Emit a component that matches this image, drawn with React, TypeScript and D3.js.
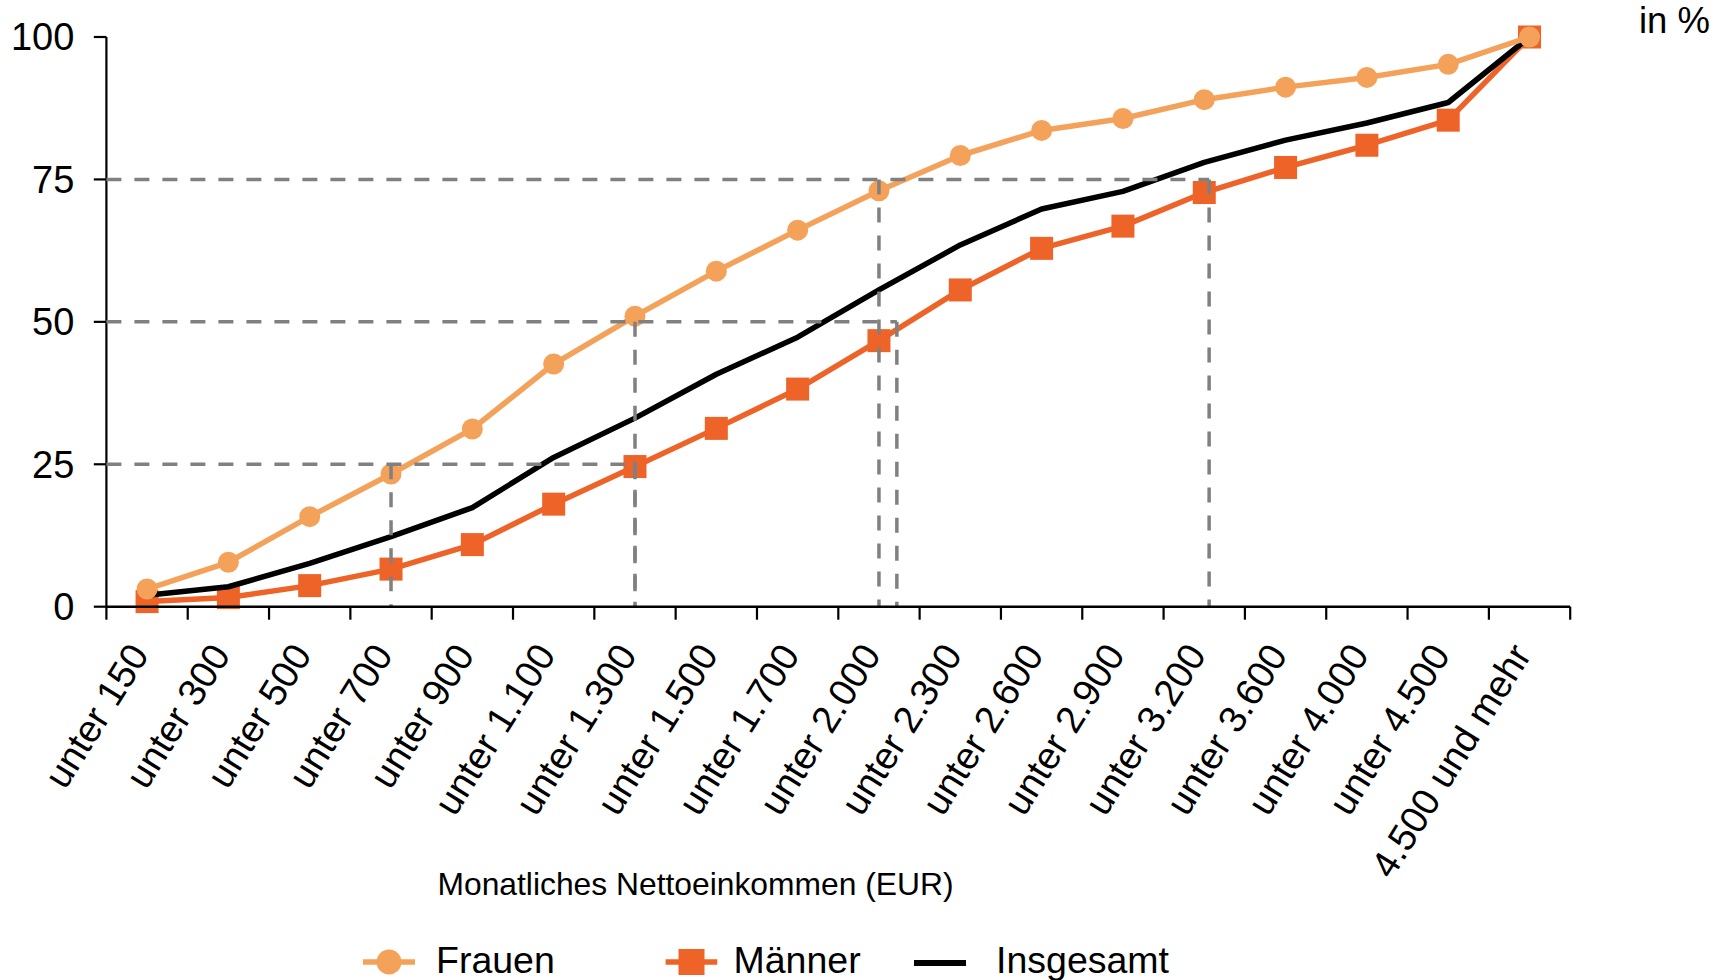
import React from 'react';
import * as d3 from 'd3';

const categories = [
  'unter 150', 'unter 300', 'unter 500', 'unter 700', 'unter 900', 'unter 1.100',
  'unter 1.300', 'unter 1.500', 'unter 1.700', 'unter 2.000', 'unter 2.300', 'unter 2.600',
  'unter 2.900', 'unter 3.200', 'unter 3.600', 'unter 4.000', 'unter 4.500', '4.500 und mehr',
];
const frauen = [3.1, 7.8, 15.8, 23.3, 31.2, 42.6, 51.0, 58.9, 66.1, 73.0, 79.2, 83.6, 85.7, 89.0, 91.2, 92.9, 95.2, 100];
const maenner = [0.9, 1.6, 3.7, 6.6, 10.9, 18.0, 24.6, 31.3, 38.2, 46.7, 55.6, 62.9, 66.8, 72.7, 77.1, 81.0, 85.4, 100];
const insgesamt = [2.0, 3.5, 7.6, 12.3, 17.4, 26.2, 33.1, 40.8, 47.3, 55.6, 63.5, 69.8, 72.9, 78.0, 81.9, 84.9, 88.5, 100];
const yTicks = [0, 25, 50, 75, 100];
const quartileLevels = [25, 50, 75];
// quartile positions expressed in category-index units
const frauenQuartiles = [3, 6, 9];
const maennerQuartiles = [6, 9.22, 13.06];
const legendItems = ['Frauen', 'Männer', 'Insgesamt'];
const axisTitle = 'Monatliches Nettoeinkommen (EUR)';
const unitLabel = 'in %';

const W = 1729;
const H = 980;
const FONT = '"Liberation Sans", Arial, Helvetica, sans-serif';
const C_F = '#F4A15A';
const C_M = '#EE6327';
const C_DASH = '#808080';

export default function App() {
  const x = d3.scaleBand<string>().domain(categories).range([106.4, 1570.2]);
  const y = d3.scaleLinear().domain([0, 100]).range([606.7, 37]);
  const bw = x.bandwidth();
  const first = (x(categories[0]) as number) + bw / 2;
  const last = (x(categories[categories.length - 1]) as number) + bw / 2;
  const xi = d3.scaleLinear().domain([0, categories.length - 1]).range([first, last]);
  const [x0, x1] = x.range();
  const y0 = y(0);

  const line = d3
    .line<number>()
    .x((_, i) => xi(i))
    .y((d) => y(d));

  const boundaries = categories.map((c) => x(c) as number).concat([x1]);

  const dash = '15 13';
  const dashW = 3.5;

  const sq = 11.5;
  const r = 10.5;

  return (
    <svg
      width={W}
      height={H}
      style={{ position: 'absolute', left: 0, top: 0, display: 'block', background: '#fff' }}
      fontFamily={FONT}
    >
      <rect x={0} y={0} width={W} height={H} fill="#fff" />

      {/* Y axis */}
      <line x1={x0} x2={x0} y1={y(100)} y2={y0} stroke="#000" strokeWidth={2.2} />
      {yTicks.map((t) => (
        <g key={t}>
          <line x1={x0 - 12.6} x2={x0} y1={y(t)} y2={y(t)} stroke="#000" strokeWidth={2.2} />
          <text x={x0 - 32} y={y(t)} dy="0.35em" textAnchor="end" fontSize={38} fill="#000">
            {t}
          </text>
        </g>
      ))}

      {/* Series */}
      <path d={line(maenner) || ''} fill="none" stroke={C_M} strokeWidth={5.5} strokeLinejoin="round" />
      {maenner.map((v, i) => (
        <rect key={i} x={xi(i) - sq} y={y(v) - sq} width={sq * 2} height={sq * 2} fill={C_M} />
      ))}
      <path d={line(insgesamt) || ''} fill="none" stroke="#000" strokeWidth={5.5} strokeLinejoin="round" />
      <path d={line(frauen) || ''} fill="none" stroke={C_F} strokeWidth={5.5} strokeLinejoin="round" />
      {frauen.map((v, i) => (
        <circle key={i} cx={xi(i)} cy={y(v)} r={r} fill={C_F} />
      ))}

      {/* Quartile guide lines */}
      {quartileLevels.map((lv, i) => {
        const xe = Math.max(xi(frauenQuartiles[i]), xi(maennerQuartiles[i]));
        return (
          <g key={lv}>
            <line x1={x0} x2={xe} y1={y(lv)} y2={y(lv)} stroke={C_DASH} strokeWidth={dashW} strokeDasharray={dash} />
            <line
              x1={xi(frauenQuartiles[i])}
              x2={xi(frauenQuartiles[i])}
              y1={y(lv)}
              y2={y0}
              stroke={C_DASH}
              strokeWidth={dashW}
              strokeDasharray={dash}
            />
            <line
              x1={xi(maennerQuartiles[i])}
              x2={xi(maennerQuartiles[i])}
              y1={y(lv)}
              y2={y0}
              stroke={C_DASH}
              strokeWidth={dashW}
              strokeDasharray={dash}
            />
          </g>
        );
      })}

      {/* X axis */}
      <line x1={x0} x2={x1} y1={y0} y2={y0} stroke="#000" strokeWidth={2.6} />
      {boundaries.map((b, i) => (
        <line key={i} x1={b} x2={b} y1={y0} y2={y0 + 13} stroke="#000" strokeWidth={2.2} />
      ))}
      {categories.map((c) => {
        const cx = (x(c) as number) + bw / 2 + 3;
        const cy = y0 + 48;
        return (
          <text
            key={c}
            x={cx}
            y={cy}
            transform={`rotate(-58 ${cx} ${cy})`}
            textAnchor="end"
            fontSize={38}
            fill="#000"
          >
            {c}
          </text>
        );
      })}

      {/* Axis title */}
      <text x={695.5} y={895} textAnchor="middle" fontSize={31.8} fill="#000">
        {axisTitle}
      </text>

      {/* Unit */}
      <text x={1639} y={33} fontSize={36.5} fill="#000">
        {unitLabel}
      </text>

      {/* Legend */}
      <g>
        <line x1={363} x2={415} y1={962} y2={962} stroke={C_F} strokeWidth={5.5} />
        <circle cx={389} cy={962} r={12.5} fill={C_F} />
        <text x={436} y={973} fontSize={37.5} fill="#000">{legendItems[0]}</text>

        <line x1={665.6} x2={717.3} y1={962} y2={962} stroke={C_M} strokeWidth={5.5} />
        <rect x={691.5 - 13} y={962 - 13} width={26} height={26} fill={C_M} />
        <text x={733.5} y={973} fontSize={37.5} fill="#000">{legendItems[1]}</text>

        <line x1={914} x2={966} y1={963} y2={963} stroke="#000" strokeWidth={6} />
        <text x={996} y={973} fontSize={37.5} fill="#000">{legendItems[2]}</text>
      </g>
    </svg>
  );
}
